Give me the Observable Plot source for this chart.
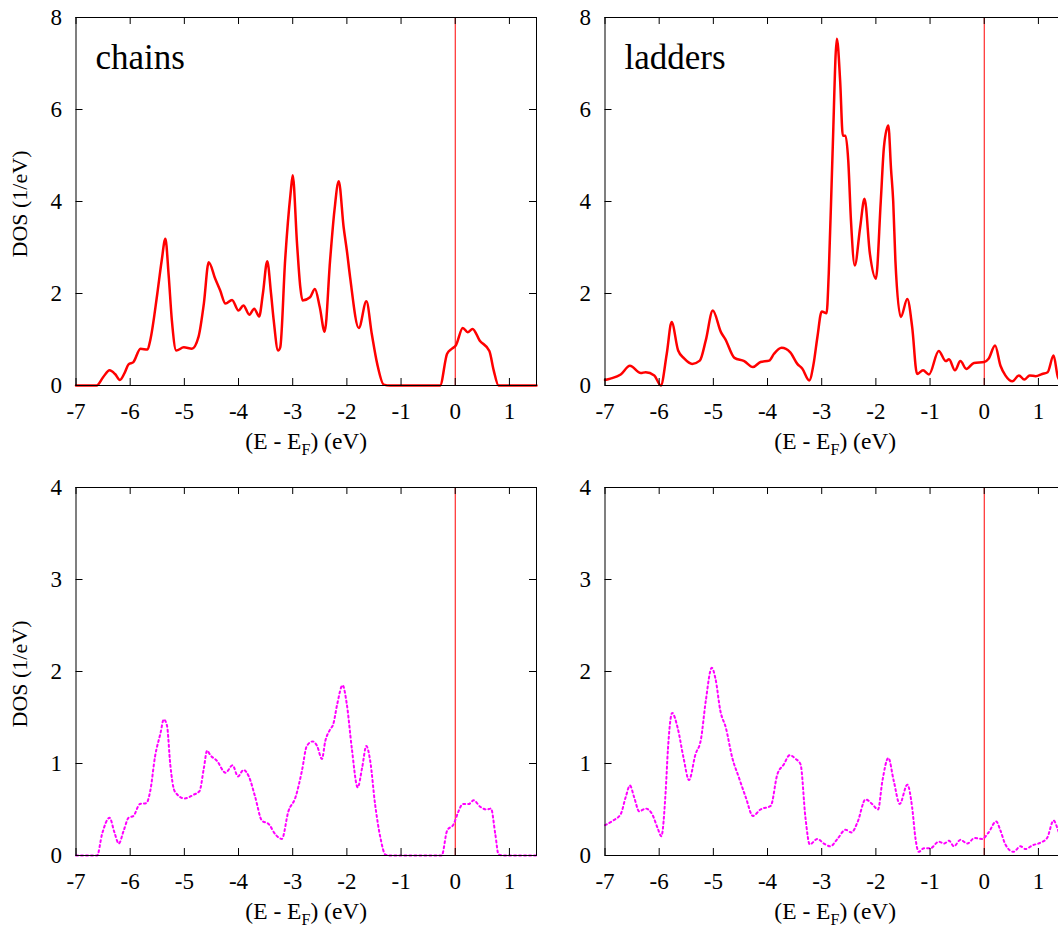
<!DOCTYPE html>
<html><head><meta charset="utf-8">
<script src="https://cdn.jsdelivr.net/npm/d3@7"></script>
<script src="https://cdn.jsdelivr.net/npm/@observablehq/plot@0.6"></script>
<style>
html,body{margin:0;padding:0;background:#fff;overflow:hidden;width:1058px;height:929px;}
#wrap{position:relative;width:1058px;height:929px;overflow:hidden;background:#fff;}
.panel{position:absolute;}
</style></head><body><div id="wrap"></div>
<script>
// ---- tick values ----
const xTicks = [-7, -6, -5, -4, -3, -2, -1, 0, 1];
const yTicksTop = [0, 2, 4, 6, 8];
const yTicksBottom = [0, 1, 2, 3, 4];
const panelNames = ["chains", "ladders"];
const yLabel = "DOS (1/eV)";
const xLabel = "(E - EF) (eV)";

// ---- chains, total DOS (top left) ----
const chainsTotalE = [-7.0,-6.8,-6.62,-6.5,-6.38,-6.28,-6.19,-6.1,-6.03,-5.94,-5.81,-5.68,-5.63,-5.5,-5.42,-5.35,-5.29,-5.23,-5.15,-5.01,-4.86,-4.74,-4.64,-4.55,-4.43,-4.34,-4.24,-4.12,-4.0,-3.91,-3.8,-3.71,-3.62,-3.55,-3.47,-3.4,-3.35,-3.27,-3.23,-3.14,-3.04,-3.0,-2.92,-2.86,-2.82,-2.68,-2.59,-2.5,-2.41,-2.31,-2.23,-2.15,-2.06,-2.0,-1.94,-1.78,-1.64,-1.54,-1.44,-1.32,-1.2,-0.5,-0.28,-0.15,-0.06,0.01,0.14,0.23,0.32,0.45,0.63,0.71,0.8,1.0,1.5];
const chainsTotalDOS = [0,0,0,0.18,0.33,0.25,0.12,0.28,0.46,0.51,0.8,0.78,0.98,1.99,2.7,3.19,2.4,1.41,0.76,0.83,0.8,1.05,1.78,2.68,2.32,2.07,1.78,1.86,1.63,1.74,1.54,1.67,1.5,2.0,2.7,2.0,1.41,0.76,0.83,2.72,4.17,4.57,3.08,2.14,1.85,1.92,2.1,1.7,1.17,2.72,3.8,4.44,3.44,2.93,2.35,1.25,1.83,1.12,0.47,0.02,0,0,0,0.69,0.8,0.87,1.25,1.16,1.23,0.98,0.75,0.33,0,0,0];

// ---- ladders, total DOS (top right) ----
const laddersTotalE = [-7.0,-6.9,-6.71,-6.54,-6.34,-6.25,-6.09,-5.97,-5.86,-5.77,-5.65,-5.54,-5.39,-5.25,-5.14,-5.01,-4.86,-4.78,-4.61,-4.43,-4.27,-4.13,-3.97,-3.88,-3.74,-3.58,-3.45,-3.36,-3.23,-3.15,-3.08,-3.0,-2.91,-2.87,-2.8,-2.72,-2.66,-2.61,-2.56,-2.51,-2.46,-2.39,-2.29,-2.21,-2.11,-2.0,-1.91,-1.85,-1.77,-1.72,-1.68,-1.64,-1.54,-1.42,-1.33,-1.24,-1.13,-1.02,-0.84,-0.71,-0.65,-0.54,-0.44,-0.33,-0.19,0.0,0.08,0.2,0.3,0.39,0.52,0.64,0.74,0.84,0.95,1.07,1.17,1.28,1.36,1.45,1.5];
const laddersTotalDOS = [0.12,0.15,0.24,0.43,0.27,0.29,0.22,0.0,0.69,1.38,0.76,0.59,0.47,0.54,0.98,1.63,1.16,1.01,0.6,0.53,0.4,0.51,0.54,0.69,0.82,0.72,0.47,0.37,0.11,0.47,1.05,1.61,1.57,2.43,5.04,7.54,6.63,5.43,5.43,4.89,3.59,2.61,3.44,4.06,2.86,2.32,4.0,5.2,5.65,4.7,4.0,2.72,1.49,1.88,1.27,0.25,0.33,0.24,0.75,0.53,0.57,0.33,0.53,0.36,0.49,0.51,0.58,0.87,0.43,0.22,0.09,0.22,0.13,0.22,0.2,0.25,0.29,0.65,0.18,0.06,0.05];

// ---- chains, second DOS (bottom left) ----
const chainsPartE = [-7.0,-6.61,-6.52,-6.38,-6.29,-6.21,-6.12,-6.03,-5.94,-5.82,-5.7,-5.63,-5.54,-5.44,-5.38,-5.32,-5.26,-5.18,-5.0,-4.83,-4.72,-4.64,-4.58,-4.52,-4.4,-4.24,-4.11,-4.01,-3.91,-3.81,-3.69,-3.57,-3.44,-3.32,-3.2,-3.08,-2.95,-2.83,-2.74,-2.63,-2.55,-2.46,-2.4,-2.31,-2.25,-2.18,-2.08,-2.0,-1.91,-1.8,-1.72,-1.64,-1.57,-1.48,-1.38,-1.29,-1.2,-0.25,-0.15,-0.03,0.06,0.14,0.25,0.34,0.46,0.58,0.66,0.74,0.8,0.9,1.5];
const chainsPartDOS = [0,0,0.23,0.41,0.25,0.13,0.27,0.41,0.43,0.56,0.57,0.7,1.08,1.33,1.48,1.41,0.99,0.7,0.62,0.66,0.7,0.95,1.14,1.09,1.03,0.9,0.98,0.86,0.93,0.86,0.63,0.38,0.34,0.23,0.18,0.48,0.63,0.92,1.19,1.24,1.19,1.05,1.24,1.37,1.43,1.64,1.85,1.64,1.17,0.74,0.95,1.19,1.03,0.56,0.19,0.01,0,0,0.27,0.34,0.48,0.56,0.56,0.6,0.53,0.5,0.51,0.23,0.01,0,0];

// ---- ladders, second DOS (bottom right) ----
const laddersPartE = [-7.0,-6.85,-6.71,-6.62,-6.54,-6.46,-6.37,-6.25,-6.13,-6.03,-5.96,-5.88,-5.84,-5.76,-5.66,-5.55,-5.45,-5.33,-5.23,-5.14,-5.03,-4.96,-4.87,-4.77,-4.65,-4.53,-4.4,-4.27,-4.13,-3.94,-3.82,-3.7,-3.59,-3.48,-3.39,-3.3,-3.22,-3.08,-2.96,-2.84,-2.71,-2.56,-2.45,-2.34,-2.19,-2.07,-1.96,-1.88,-1.77,-1.67,-1.56,-1.42,-1.33,-1.27,-1.21,-1.11,-0.99,-0.84,-0.74,-0.65,-0.56,-0.44,-0.31,-0.18,-0.04,0.08,0.22,0.3,0.39,0.54,0.67,0.76,0.89,1.04,1.16,1.28,1.36,1.45,1.5];
const laddersPartDOS = [0.33,0.38,0.45,0.63,0.76,0.63,0.48,0.51,0.45,0.3,0.21,0.7,1.14,1.55,1.39,1.06,0.82,1.1,1.26,1.68,2.04,1.92,1.57,1.39,1.06,0.85,0.63,0.43,0.5,0.54,0.88,0.99,1.09,1.05,0.99,0.41,0.12,0.18,0.13,0.1,0.18,0.28,0.25,0.36,0.61,0.56,0.5,0.81,1.06,0.81,0.56,0.77,0.52,0.19,0.04,0.08,0.08,0.15,0.13,0.16,0.1,0.17,0.13,0.19,0.18,0.25,0.37,0.27,0.12,0.04,0.1,0.07,0.11,0.14,0.19,0.38,0.28,0.12,0.1];

const FONT = "'Liberation Serif','Times New Roman',Times,serif";
const W = 560, H = 470, mL = 75.5, mR = 24, mT = 17, mB = 85;
const pw = W - mL - mR, ph = H - mT - mB;
const tickLen = 7;

function panel({E, D, yMax, yTicks, stroke, dash, width, name, showYLabel, left, top}) {
  const data = E.map((e, i) => ({e, d: D[i]}));
  const marks = [
    Plot.ruleX([0], {stroke: "#ff0000", strokeWidth: 1}),
    Plot.line(data, {x: "e", y: "d", stroke, strokeWidth: width, strokeDasharray: dash, curve: "monotone-x"}),
    Plot.tickX(xTicks, {x: d => d, insetTop: ph - tickLen, stroke: "#000"}),
    Plot.tickX(xTicks, {x: d => d, insetBottom: ph - tickLen, stroke: "#000"}),
    Plot.tickY(yTicks, {y: d => d, insetRight: pw - tickLen, stroke: "#000"}),
    Plot.tickY(yTicks, {y: d => d, insetLeft: pw - tickLen, stroke: "#000"}),
    Plot.frame({stroke: "#000", strokeWidth: 1}),
    Plot.axisX({ticks: xTicks, tickSize: 0, tickPadding: 17, tickFormat: d => String(d), label: null, fontSize: 23}),
    Plot.axisY({ticks: yTicks, tickSize: 0, tickPadding: 14, tickFormat: d => String(d), label: null, fontSize: 23}),
    Plot.text([xLabel], {frameAnchor: "bottom", dy: 63.5, lineAnchor: "bottom", textAnchor: "middle", fontSize: 23.5})
  ];
  if (name) marks.push(Plot.text([name], {frameAnchor: "top-left", dx: 19.5, dy: 51.3, textAnchor: "start", lineAnchor: "bottom", fontSize: 35}));
  if (showYLabel) marks.push(Plot.text([yLabel], {frameAnchor: "left", rotate: -90, dx: -49.5, dy: 2.5, textAnchor: "middle", lineAnchor: "bottom", fontSize: 22}));
  const svg = Plot.plot({
    width: W, height: H,
    marginLeft: mL, marginRight: mR, marginTop: mT, marginBottom: mB,
    x: {domain: [-7, 1.5], axis: null},
    y: {domain: [0, yMax], axis: null},
    style: {fontFamily: FONT, fontSize: "22px", color: "#000", background: "transparent", overflow: "visible"},
    marks
  });
  // subscript F in the x label
  svg.querySelectorAll("text").forEach(t => {
    if (t.textContent === xLabel) {
      t.textContent = "";
      const ns = "http://www.w3.org/2000/svg";
      const a = document.createElementNS(ns, "tspan"); a.textContent = "(E - E";
      const b = document.createElementNS(ns, "tspan"); b.textContent = "F"; b.setAttribute("dy", "6"); b.setAttribute("font-size", "16");
      const c = document.createElementNS(ns, "tspan"); c.textContent = ") (eV)"; c.setAttribute("dy", "-6");
      t.append(a, b, c);
    }
  });
  const div = document.createElement("div");
  div.className = "panel";
  div.style.left = left + "px";
  div.style.top = top + "px";
  div.style.width = W + "px";
  div.appendChild(svg);
  document.getElementById("wrap").appendChild(div);
}

const RED = "#ff0000", MAGENTA = "#ff00ff";
panel({E: chainsTotalE, D: chainsTotalDOS, yMax: 8, yTicks: yTicksTop, stroke: RED, dash: null, width: 2.5, name: panelNames[0], showYLabel: true, left: 0, top: 0});
panel({E: laddersTotalE, D: laddersTotalDOS, yMax: 8, yTicks: yTicksTop, stroke: RED, dash: null, width: 2.5, name: panelNames[1], showYLabel: false, left: 528.7, top: 0});
panel({E: chainsPartE, D: chainsPartDOS, yMax: 4, yTicks: yTicksBottom, stroke: MAGENTA, dash: "2,3", width: 2, name: null, showYLabel: true, left: 0, top: 469.5});
panel({E: laddersPartE, D: laddersPartDOS, yMax: 4, yTicks: yTicksBottom, stroke: MAGENTA, dash: "2,3", width: 2, name: null, showYLabel: false, left: 528.7, top: 469.5});
</script>
</body></html>
